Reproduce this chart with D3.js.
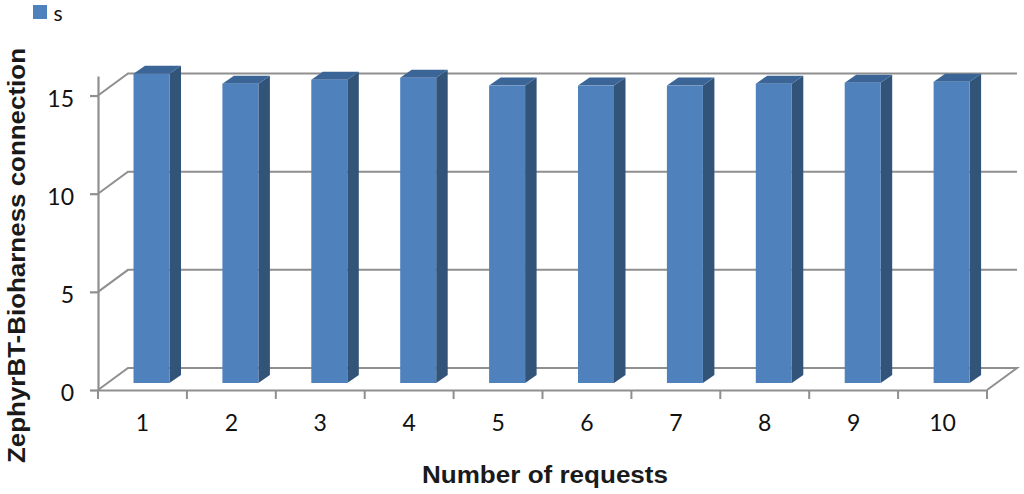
<!DOCTYPE html>
<html><head><meta charset="utf-8">
<script src="https://cdn.jsdelivr.net/npm/d3@7"></script>
<style>html,body{margin:0;padding:0;background:#fff;overflow:hidden}svg{display:block}</style>
</head><body><svg id="c" width="1024" height="494"></svg>
<script>
const categories = ["1","2","3","4","5","6","7","8","9","10"];
const seriesName = "s";
const values = [15.75,15.25,15.45,15.55,15.15,15.15,15.15,15.25,15.3,15.35];
const yTicks = [0,5,10,15];
const xTitle = "Number of requests";
const yTitle = "ZephyrBT-Bioharness connection";

const plot={left:98,right:987,bottom:390};
const wall={dx:30,dy:-22};
const barDepth={dx:11.5,dy:-8};
const barFloor={dy:-7};
const grid="#8f8f8f",front="#4f81bd",side="#325479",topc="#3b6596";
const tickFont="Lato, 'Open Sans', sans-serif";
const titleFont="'Liberation Sans', Arial, sans-serif";
const tickSize="23px";

const svg=d3.select("#c");
const x=d3.scaleBand().domain(categories).range([plot.left,plot.right]).paddingInner(0).paddingOuter(0);
const y=d3.scaleLinear().domain([0,16]).range([plot.bottom,plot.bottom-16*19.63]);
const barW=36, barShift=36;

const line=d3.line();
const g=svg.append("g").attr("fill","none").attr("stroke",grid).attr("stroke-width",2);
yTicks.forEach(t=>{
  const yy=y(t);
  const pts=[[plot.left,yy],[plot.left+wall.dx,yy+wall.dy],[plot.right+wall.dx,yy+wall.dy]];
  if(t===0) pts.push([plot.right,yy]);
  g.append("path").attr("d",line(pts));
});

const yAxis=d3.axisLeft(y).tickValues(yTicks).tickSize(8).tickSizeOuter(0).tickPadding(16);
const xAxis=d3.axisBottom(x).tickSize(0).tickPadding(25);
const ya=svg.append("g").attr("transform",`translate(${plot.left},0)`).call(yAxis);
const xa=svg.append("g").attr("transform",`translate(0,${plot.bottom})`).call(xAxis);
[ya,xa].forEach(a=>{
  a.selectAll("path,line").attr("stroke",grid).attr("stroke-width",2.2);
  a.selectAll("text").attr("fill","#111").style("font-family",tickFont).style("font-size",tickSize);
});
ya.selectAll("text").attr("dy","0.47em");
const xEdges=[...categories.map(c=>x(c)),plot.right];
xa.selectAll("line.edge").data(xEdges).enter().append("line").attr("class","edge")
  .attr("x1",d=>d).attr("x2",d=>d).attr("y1",0).attr("y2",9)
  .attr("stroke",grid).attr("stroke-width",2);

const bars=svg.append("g").selectAll("g").data(categories.map((c,i)=>({c,v:values[i]}))).enter().append("g");
const bx=d=>x(d.c)+barShift-0.5;
const by0=y(0)+barFloor.dy;
const byt=d=>y(d.v)+barFloor.dy;
bars.append("path").attr("fill",side).attr("d",d=>{
  const r=bx(d)+barW;
  return line([[r,byt(d)],[r+barDepth.dx,byt(d)+barDepth.dy],[r+barDepth.dx,by0+barDepth.dy],[r,by0]])+"Z";
});
bars.append("path").attr("fill",topc).attr("d",d=>{
  const l=bx(d),r=l+barW,t=byt(d);
  return line([[l,t],[l+barDepth.dx,t+barDepth.dy],[r+barDepth.dx,t+barDepth.dy],[r,t]])+"Z";
});
bars.append("rect").attr("fill",front).attr("x",bx).attr("width",barW).attr("y",byt).attr("height",d=>by0-byt(d));

svg.append("rect").attr("x",33).attr("y",5).attr("width",14).attr("height",14).attr("fill",front);
svg.append("text").attr("x",53.5).attr("y",21).attr("fill","#111").style("font-family",tickFont).style("font-size","21px").text(seriesName);

svg.append("text").attr("x",545).attr("y",483).attr("text-anchor","middle").attr("fill","#1a1a1a")
  .attr("textLength",246).attr("lengthAdjust","spacingAndGlyphs")
  .style("font-family",titleFont).style("font-weight","bold").style("font-size","23px").text(xTitle);
svg.append("text").attr("transform","translate(25,255.5) rotate(-90)").attr("text-anchor","middle").attr("fill","#1a1a1a")
  .attr("textLength",415).attr("lengthAdjust","spacingAndGlyphs")
  .style("font-family",titleFont).style("font-weight","bold").style("font-size","23px").text(yTitle);
</script></body></html>
